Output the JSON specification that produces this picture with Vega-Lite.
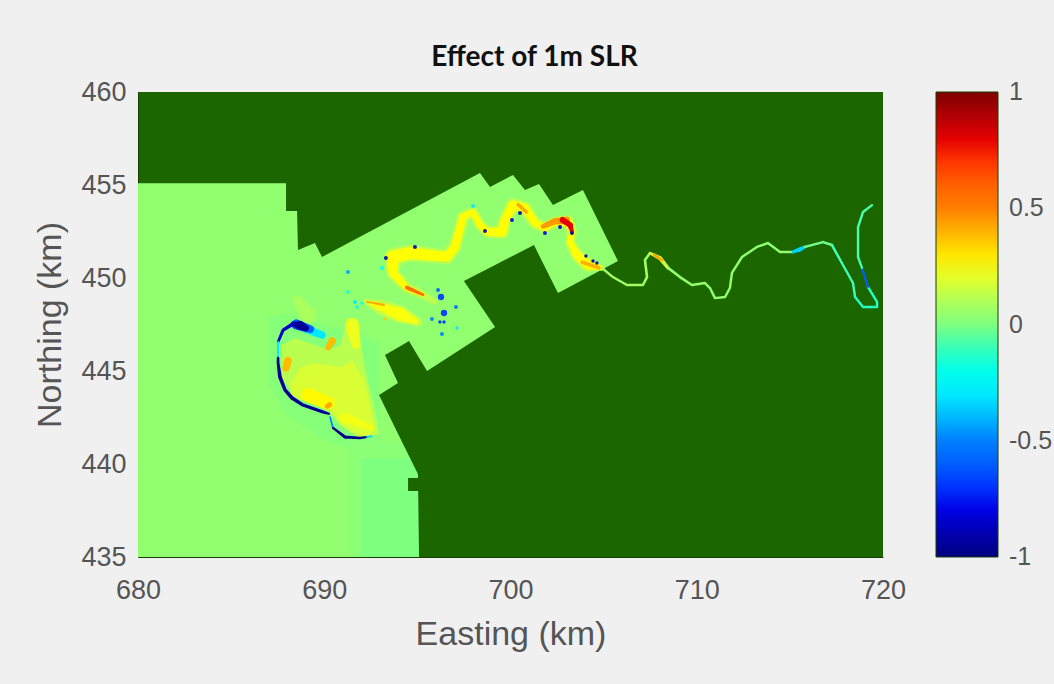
{"$schema":"https://vega.github.io/schema/vega-lite/v6.json","width":745,"height":465,"autosize":"none","padding":{"left":138,"top":92,"right":171,"bottom":127},"background":"#f0f0f0","view":{"fill":"#1c6600","stroke":null},
"title":{"text":"Effect of 1m SLR","font":"Lato","fontSize":28,"fontWeight":"bold","color":"#111111","anchor":"middle","dx":24,"offset":6},
"config":{"axis":{"labelFont":"Liberation Sans","titleFont":"Liberation Sans","labelFontSize":27,"titleFontSize":34,"titleFontWeight":"normal","labelColor":"#555555","titleColor":"#555555","grid":false,"ticks":false,"domainColor":"#173f00","labelFlush":false},"legend":{"labelFont":"Liberation Sans"}},
"resolve":{"scale":{"size":"independent"},"legend":{"color":"independent"}},
"datasets":{
"mesh":[
{"id":"m1","x":680,"y":455.1,"y2":435,"v":0.04},{"id":"m1","x":687.95,"y":455.1,"y2":435,"v":0.04},{"id":"m1","x":687.95,"y":453.6,"y2":435,"v":0.04},{"id":"m1","x":688.54,"y":453.6,"y2":435,"v":0.04},{"id":"m1","x":688.59,"y":451.5,"y2":435,"v":0.04},{"id":"m1","x":689.5,"y":451.88,"y2":435,"v":0.04},{"id":"m1","x":689.88,"y":451.13,"y2":435,"v":0.04},{"id":"m1","x":698.36,"y":455.64,"y2":435,"v":0.04},{"id":"m1","x":698.9,"y":454.89,"y2":435,"v":0.04},{"id":"m1","x":700.13,"y":455.54,"y2":435,"v":0.04},{"id":"m1","x":700.78,"y":454.73,"y2":435,"v":0.04},{"id":"m1","x":701.53,"y":455.05,"y2":435,"v":0.04},{"id":"m1","x":702.28,"y":453.92,"y2":435,"v":0.04},{"id":"m1","x":702.55,"y":454.06,"y2":435,"v":0.04},{"id":"m1","x":702.55,"y":454.06,"y2":449.19,"v":0.04},{"id":"m1","x":703.89,"y":454.73,"y2":449.91,"v":0.04},{"id":"m1","x":705.77,"y":450.91,"y2":450.91,"v":0.04},
{"id":"m4","x":687,"y":447.9,"y2":444.3,"v":0.015},{"id":"m4","x":688,"y":448.1,"y2":442.6,"v":0.015},{"id":"m4","x":690,"y":447.5,"y2":441.3,"v":0.015},{"id":"m4","x":692,"y":447,"y2":440.6,"v":0.015},{"id":"m4","x":693,"y":446.5,"y2":441,"v":0.015},
{"id":"m2","x":691.4,"y":441.2,"y2":435,"v":0.025},{"id":"m2","x":695.09,"y":441.2,"y2":435,"v":0.025},
{"id":"m3","x":692.03,"y":440.3,"y2":435,"v":0.0},{"id":"m3","x":695.09,"y":440.3,"y2":435,"v":0.0}
],
"land":[
{"id":"d1","x":692.94,"y":443.71,"y2":443.71},{"id":"d1","x":693.96,"y":444.35,"y2":441.63},
{"id":"d2","x":693.26,"y":445.86,"y2":445.86},{"id":"d2","x":693.96,"y":446.27,"y2":444.35},{"id":"d2","x":693.96,"y":446.27,"y2":441.63},{"id":"d2","x":694.55,"y":446.61,"y2":440.43},{"id":"d2","x":694.87,"y":446.08,"y2":439.78},{"id":"d2","x":695.03,"y":445.81,"y2":439.46},{"id":"d2","x":695.09,"y":445.71,"y2":435},{"id":"d2","x":695.52,"y":445,"y2":435},{"id":"d2","x":699.3,"y":447.44,"y2":435},
{"id":"d3","x":697.5,"y":449.84,"y2":449.84},{"id":"d3","x":699.17,"y":450.7,"y2":447.36},{"id":"d3","x":699.17,"y":450.7,"y2":435},{"id":"d3","x":701.26,"y":451.77,"y2":435},{"id":"d3","x":702.55,"y":449.19,"y2":435},
{"id":"d4","x":694.5,"y":439.25,"y2":438.55},{"id":"d4","x":695.09,"y":439.25,"y2":438.55}
],
"fan":[
{"id":"f1","x":687.73,"y":446.4,"y2":444.62,"v":0.12},{"id":"f1","x":688.43,"y":446.77,"y2":443.66,"v":0.12},{"id":"f1","x":689.5,"y":446.4,"y2":443.17,"v":0.12},{"id":"f1","x":690.31,"y":446.13,"y2":442.8,"v":0.12},{"id":"f1","x":690.85,"y":446.4,"y2":442.1,"v":0.12},{"id":"f1","x":691.27,"y":447.85,"y2":441.83,"v":0.12},{"id":"f1","x":691.81,"y":447.63,"y2":441.45,"v":0.12},{"id":"f1","x":692.19,"y":445.05,"y2":441.45,"v":0.12},{"id":"f1","x":692.72,"y":442.9,"y2":441.56,"v":0.12},{"id":"f1","x":692.94,"y":441.72,"y2":441.61,"v":0.12},
{"id":"f2","x":688.2,"y":444.3,"y2":443.75,"v":0.18},{"id":"f2","x":688.7,"y":445.2,"y2":443.45,"v":0.18},{"id":"f2","x":689.5,"y":445.4,"y2":443.2,"v":0.18},{"id":"f2","x":690.31,"y":445.3,"y2":442.85,"v":0.18},{"id":"f2","x":690.95,"y":445.2,"y2":442.1,"v":0.18},{"id":"f2","x":691.49,"y":445.6,"y2":441.7,"v":0.18},{"id":"f2","x":692.19,"y":444.4,"y2":441.5,"v":0.18},{"id":"f2","x":692.62,"y":442.3,"y2":441.61,"v":0.18}
],
"strands":[
{"s":"a01","i":0,"x":695.95,"y":448.71,"w":0.3,"v":0.12},{"s":"a01","i":1,"x":695.3,"y":449.09,"w":0.45,"v":0.12},{"s":"a01","i":2,"x":694.44,"y":449.46,"w":0.6,"v":0.12},{"s":"a01","i":3,"x":693.69,"y":450.27,"w":0.7,"v":0.12},{"s":"a01","i":4,"x":693.69,"y":451.13,"w":0.95,"v":0.12},{"s":"a01","i":5,"x":694.6,"y":451.34,"w":0.9,"v":0.12},{"s":"a01","i":6,"x":696.59,"y":451.13,"w":0.75,"v":0.12},{"s":"a01","i":7,"x":697.02,"y":451.67,"w":0.7,"v":0.12},{"s":"a01","i":8,"x":697.45,"y":453.28,"w":0.65,"v":0.12},{"s":"a01","i":9,"x":697.99,"y":453.55,"w":0.55,"v":0.12},{"s":"a01","i":10,"x":698.36,"y":452.85,"w":0.6,"v":0.12},{"s":"a01","i":11,"x":698.79,"y":452.47,"w":0.65,"v":0.12},{"s":"a01","i":12,"x":699.54,"y":452.47,"w":0.75,"v":0.12},{"s":"a01","i":13,"x":699.7,"y":453.12,"w":0.7,"v":0.12},{"s":"a01","i":14,"x":700.13,"y":453.92,"w":0.75,"v":0.12},{"s":"a01","i":15,"x":700.78,"y":453.76,"w":0.7,"v":0.12},{"s":"a01","i":16,"x":701.31,"y":452.96,"w":0.65,"v":0.12},{"s":"a01","i":17,"x":701.85,"y":452.69,"w":0.6,"v":0.12},{"s":"a01","i":18,"x":702.39,"y":453.01,"w":0.6,"v":0.12},{"s":"a01","i":19,"x":703.09,"y":453.01,"w":0.7,"v":0.12},{"s":"a01","i":20,"x":703.3,"y":452.47,"w":0.55,"v":0.12},{"s":"a01","i":21,"x":703.19,"y":451.93,"w":0.55,"v":0.12},{"s":"a01","i":22,"x":703.57,"y":451.24,"w":0.7,"v":0.12},{"s":"a01","i":23,"x":704.16,"y":450.7,"w":0.75,"v":0.12},{"s":"a01","i":24,"x":704.91,"y":450.54,"w":0.3,"v":0.12},
{"s":"a02","i":1,"x":695.3,"y":449.09,"w":0.2,"v":0.25},{"s":"a02","i":2,"x":694.44,"y":449.46,"w":0.3,"v":0.25},{"s":"a02","i":3,"x":693.69,"y":450.27,"w":0.45,"v":0.25},{"s":"a02","i":4,"x":693.69,"y":451.13,"w":0.7,"v":0.25},{"s":"a02","i":5,"x":694.6,"y":451.34,"w":0.65,"v":0.25},{"s":"a02","i":6,"x":696.59,"y":451.13,"w":0.5,"v":0.25},{"s":"a02","i":7,"x":697.02,"y":451.67,"w":0.45,"v":0.25},{"s":"a02","i":8,"x":697.45,"y":453.28,"w":0.4,"v":0.25},{"s":"a02","i":9,"x":697.99,"y":453.55,"w":0.3,"v":0.25},{"s":"a02","i":10,"x":698.36,"y":452.85,"w":0.35,"v":0.25},{"s":"a02","i":11,"x":698.79,"y":452.47,"w":0.4,"v":0.25},{"s":"a02","i":12,"x":699.54,"y":452.47,"w":0.5,"v":0.25},{"s":"a02","i":13,"x":699.7,"y":453.12,"w":0.45,"v":0.25},{"s":"a02","i":14,"x":700.13,"y":453.92,"w":0.5,"v":0.25},{"s":"a02","i":15,"x":700.78,"y":453.76,"w":0.45,"v":0.25},{"s":"a02","i":16,"x":701.31,"y":452.96,"w":0.4,"v":0.25},{"s":"a02","i":17,"x":701.85,"y":452.69,"w":0.35,"v":0.25},{"s":"a02","i":18,"x":702.39,"y":453.01,"w":0.35,"v":0.25},{"s":"a02","i":19,"x":703.09,"y":453.01,"w":0.45,"v":0.25},{"s":"a02","i":20,"x":703.3,"y":452.47,"w":0.3,"v":0.25},{"s":"a02","i":21,"x":703.19,"y":451.93,"w":0.3,"v":0.25},{"s":"a02","i":22,"x":703.57,"y":451.24,"w":0.45,"v":0.25},{"s":"a02","i":23,"x":704.16,"y":450.7,"w":0.5,"v":0.25},{"s":"a02","i":24,"x":704.91,"y":450.54,"w":0.2,"v":0.25},
{"s":"a03","i":0,"x":692.19,"y":448.76,"w":0.25,"v":0.13},{"s":"a03","i":1,"x":692.99,"y":448.44,"w":0.8,"v":0.13},{"s":"a03","i":2,"x":694.07,"y":448.06,"w":0.95,"v":0.13},{"s":"a03","i":3,"x":695.03,"y":447.63,"w":0.5,"v":0.13},
{"s":"a04","i":0,"x":692.6,"y":448.6,"w":0.3,"v":0.24},{"s":"a04","i":1,"x":694.07,"y":448.06,"w":0.7,"v":0.24},{"s":"a04","i":2,"x":694.9,"y":447.67,"w":0.3,"v":0.24},
{"s":"a05","i":0,"x":692.3,"y":448.72,"w":0.1,"v":0.42},{"s":"a05","i":1,"x":693.2,"y":448.55,"w":0.12,"v":0.42},
{"s":"a06","i":0,"x":694.44,"y":449.48,"w":0.22,"v":0.55},{"s":"a06","i":1,"x":695.3,"y":449.1,"w":0.16,"v":0.55},
{"s":"a07","i":0,"x":701.75,"y":452.78,"w":0.25,"v":0.45},{"s":"a07","i":1,"x":702.39,"y":453.05,"w":0.35,"v":0.45},{"s":"a07","i":2,"x":703.0,"y":453.1,"w":0.4,"v":0.45},
{"s":"a08","i":0,"x":702.8,"y":453.12,"w":0.32,"v":0.8},{"s":"a08","i":1,"x":703.2,"y":452.85,"w":0.3,"v":0.8},{"s":"a08","i":2,"x":703.3,"y":452.5,"w":0.2,"v":0.8},
{"s":"a09","i":0,"x":700.4,"y":453.95,"w":0.18,"v":0.42},{"s":"a09","i":1,"x":700.85,"y":453.55,"w":0.18,"v":0.42},
{"s":"a10","i":0,"x":703.85,"y":450.85,"w":0.2,"v":0.4},{"s":"a10","i":1,"x":704.75,"y":450.55,"w":0.2,"v":0.4},
{"s":"b01","i":0,"x":688.59,"y":448.82,"w":0.5,"v":0.09},{"s":"b01","i":1,"x":689.13,"y":448.0,"w":0.9,"v":0.09},
{"s":"b02","i":0,"x":691.49,"y":447.47,"w":0.75,"v":0.22},{"s":"b02","i":1,"x":691.7,"y":446.4,"w":0.45,"v":0.22},
{"s":"b03","i":0,"x":689.13,"y":443.71,"w":0.75,"v":0.26},{"s":"b03","i":1,"x":690.2,"y":443.28,"w":0.7,"v":0.26},
{"s":"b04","i":0,"x":691.11,"y":442.47,"w":0.55,"v":0.23},{"s":"b04","i":1,"x":692.56,"y":441.94,"w":0.3,"v":0.23},
{"s":"b05","i":0,"x":690.2,"y":446.25,"w":0.3,"v":0.38},{"s":"b05","i":1,"x":690.42,"y":446.6,"w":0.42,"v":0.38},
{"s":"b06","i":0,"x":687.95,"y":445.15,"w":0.38,"v":0.38},{"s":"b06","i":1,"x":688.05,"y":445.55,"w":0.42,"v":0.38},
{"s":"b07","i":0,"x":690.15,"y":443.1,"w":0.25,"v":0.42},{"s":"b07","i":1,"x":690.3,"y":443.2,"w":0.25,"v":0.42},
{"s":"k01","i":0,"x":688.5,"y":447.5,"w":0.5,"v":-0.3},{"s":"k01","i":1,"x":689.88,"y":446.93,"w":0.4,"v":-0.3},
{"s":"k02","i":0,"x":688.5,"y":447.5,"w":0.55,"v":-0.6},{"s":"k02","i":1,"x":689.25,"y":447.25,"w":0.4,"v":-0.6},
{"s":"k03","i":0,"x":688.32,"y":447.53,"w":0.25,"v":-0.95},{"s":"k03","i":1,"x":688.7,"y":447.45,"w":0.5,"v":-0.95},{"s":"k03","i":2,"x":689.0,"y":447.3,"w":0.35,"v":-0.95},
{"s":"k04","i":0,"x":688.32,"y":447.53,"w":0.2,"v":-0.85},{"s":"k04","i":1,"x":687.79,"y":447.2,"w":0.17,"v":-0.85},{"s":"k04","i":2,"x":687.52,"y":446.56,"w":0.14,"v":-0.85},
{"s":"k05","i":0,"x":687.52,"y":446.56,"w":0.1,"v":-0.3},{"s":"k05","i":1,"x":687.52,"y":445.7,"w":0.1,"v":-0.3},
{"s":"k06","i":0,"x":687.52,"y":445.7,"w":0.14,"v":-0.95},{"s":"k06","i":1,"x":687.52,"y":445.43,"w":0.15,"v":-0.95},{"s":"k06","i":2,"x":687.62,"y":444.68,"w":0.2,"v":-0.95},{"s":"k06","i":3,"x":687.89,"y":443.98,"w":0.18,"v":-0.95},{"s":"k06","i":4,"x":688.27,"y":443.55,"w":0.2,"v":-0.95},{"s":"k06","i":5,"x":688.86,"y":443.17,"w":0.18,"v":-0.95},{"s":"k06","i":6,"x":689.93,"y":442.8,"w":0.17,"v":-0.95},{"s":"k06","i":7,"x":690.25,"y":442.7,"w":0.12,"v":-0.95},
{"s":"k07","i":0,"x":690.31,"y":442.53,"w":0.08,"v":-0.5},{"s":"k07","i":1,"x":690.47,"y":441.94,"w":0.1,"v":-0.5},
{"s":"k08","i":0,"x":690.47,"y":441.94,"w":0.12,"v":-0.97},{"s":"k08","i":1,"x":691.11,"y":441.45,"w":0.17,"v":-0.97},{"s":"k08","i":2,"x":691.92,"y":441.4,"w":0.14,"v":-0.97},{"s":"k08","i":3,"x":692.3,"y":441.45,"w":0.1,"v":-0.97},
{"s":"k09","i":0,"x":692.3,"y":441.45,"w":0.1,"v":-0.35},{"s":"k09","i":1,"x":692.56,"y":441.5,"w":0.08,"v":-0.35},
{"s":"r01","i":0,"x":704.91,"y":450.54,"w":0.13,"v":0.07},{"s":"r01","i":1,"x":705.5,"y":450.05,"w":0.13,"v":0.07},{"s":"r01","i":2,"x":706.25,"y":449.62,"w":0.13,"v":0.07},{"s":"r01","i":3,"x":707.11,"y":449.62,"w":0.13,"v":0.07},{"s":"r01","i":4,"x":707.33,"y":450.05,"w":0.14,"v":0.07},{"s":"r01","i":5,"x":707.22,"y":450.97,"w":0.14,"v":0.07},{"s":"r01","i":6,"x":707.49,"y":451.34,"w":0.13,"v":0.07},
{"s":"r02","i":0,"x":707.49,"y":451.34,"w":0.13,"v":0.16},{"s":"r02","i":1,"x":708.03,"y":451.07,"w":0.22,"v":0.16},{"s":"r02","i":2,"x":708.46,"y":450.54,"w":0.17,"v":0.16},
{"s":"r03","i":0,"x":707.72,"y":451.25,"w":0.16,"v":0.42},{"s":"r03","i":1,"x":708.15,"y":450.95,"w":0.13,"v":0.42},
{"s":"r04","i":0,"x":708.46,"y":450.54,"w":0.15,"v":0.04},{"s":"r04","i":1,"x":709.1,"y":450.05,"w":0.14,"v":0.04},{"s":"r04","i":2,"x":709.74,"y":449.62,"w":0.13,"v":0.04},{"s":"r04","i":3,"x":710.44,"y":449.73,"w":0.13,"v":0.04},{"s":"r04","i":4,"x":710.71,"y":449.46,"w":0.13,"v":0.04},{"s":"r04","i":5,"x":710.98,"y":448.92,"w":0.13,"v":0.04},{"s":"r04","i":6,"x":711.52,"y":448.98,"w":0.13,"v":0.04},{"s":"r04","i":7,"x":711.78,"y":449.46,"w":0.13,"v":0.04},{"s":"r04","i":8,"x":711.89,"y":450.27,"w":0.13,"v":0.04},{"s":"r04","i":9,"x":712.43,"y":451.13,"w":0.13,"v":0.04},{"s":"r04","i":10,"x":713.23,"y":451.67,"w":0.13,"v":0.04},{"s":"r04","i":11,"x":713.82,"y":451.88,"w":0.13,"v":0.04},{"s":"r04","i":12,"x":714.47,"y":451.4,"w":0.13,"v":0.04},{"s":"r04","i":13,"x":715.17,"y":451.4,"w":0.13,"v":0.04},
{"s":"r05","i":0,"x":715.17,"y":451.4,"w":0.16,"v":-0.35},{"s":"r05","i":1,"x":715.5,"y":451.52,"w":0.24,"v":-0.35},{"s":"r05","i":2,"x":715.81,"y":451.67,"w":0.16,"v":-0.35},
{"s":"r06","i":0,"x":715.81,"y":451.67,"w":0.13,"v":-0.02},{"s":"r06","i":1,"x":716.78,"y":451.93,"w":0.13,"v":-0.02},{"s":"r06","i":2,"x":717.26,"y":451.77,"w":0.14,"v":-0.02},
{"s":"r07","i":0,"x":717.26,"y":451.77,"w":0.14,"v":-0.09},{"s":"r07","i":1,"x":717.85,"y":450.7,"w":0.13,"v":-0.09},{"s":"r07","i":2,"x":718.39,"y":449.73,"w":0.13,"v":-0.09},{"s":"r07","i":3,"x":718.5,"y":448.98,"w":0.13,"v":-0.09},
{"s":"r08","i":0,"x":718.5,"y":448.98,"w":0.13,"v":-0.12},{"s":"r08","i":1,"x":718.93,"y":448.44,"w":0.13,"v":-0.12},{"s":"r08","i":2,"x":719.68,"y":448.44,"w":0.13,"v":-0.12},{"s":"r08","i":3,"x":719.68,"y":448.71,"w":0.13,"v":-0.12},{"s":"r08","i":4,"x":719.19,"y":449.52,"w":0.13,"v":-0.12},
{"s":"r09","i":0,"x":719.19,"y":449.52,"w":0.12,"v":-0.6},{"s":"r09","i":1,"x":718.87,"y":450.54,"w":0.12,"v":-0.6},
{"s":"r10","i":0,"x":718.87,"y":450.54,"w":0.12,"v":-0.08},{"s":"r10","i":1,"x":718.66,"y":451.13,"w":0.13,"v":-0.08},{"s":"r10","i":2,"x":718.66,"y":452.74,"w":0.13,"v":-0.08},{"s":"r10","i":3,"x":718.93,"y":453.55,"w":0.13,"v":-0.08},{"s":"r10","i":4,"x":719.41,"y":453.92,"w":0.12,"v":-0.08}
],
"specks":[
{"x":691.27,"y":450.32,"v":-0.45,"r":2},{"x":691.27,"y":449.25,"v":-0.2,"r":1.5},{"x":693.31,"y":451.07,"v":-0.9,"r":2},{"x":694.87,"y":451.67,"v":-0.9,"r":2},{"x":698.63,"y":452.53,"v":-0.9,"r":2},{"x":697.99,"y":453.87,"v":-0.3,"r":2},{"x":696.11,"y":449.35,"v":-0.6,"r":2},{"x":696.27,"y":448.98,"v":-0.7,"r":5},{"x":696.43,"y":448.12,"v":-0.7,"r":5},{"x":697.07,"y":448.44,"v":-0.55,"r":2},{"x":695.78,"y":447.79,"v":-0.5,"r":2},{"x":696.21,"y":447.63,"v":-0.7,"r":1.5},{"x":696.43,"y":447.63,"v":-0.7,"r":1.5},{"x":696.32,"y":446.99,"v":-0.5,"r":2},{"x":693.26,"y":447.79,"v":0.35,"r":1.5},{"x":697.13,"y":447.31,"v":-0.3,"r":1.5},{"x":693.1,"y":450.54,"v":-0.25,"r":2},{"x":691.65,"y":448.71,"v":-0.3,"r":2},{"x":691.76,"y":448.44,"v":-0.25,"r":1.5},{"x":692.03,"y":448.65,"v":-0.25,"r":1.5},{"x":700.08,"y":453.12,"v":-0.8,"r":2},{"x":700.51,"y":453.49,"v":-0.9,"r":2},{"x":701.85,"y":452.42,"v":-0.8,"r":2},{"x":702.66,"y":452.74,"v":-0.85,"r":2},{"x":703.3,"y":452.42,"v":-0.9,"r":2},{"x":704.05,"y":451.18,"v":-0.9,"r":1.5},{"x":704.43,"y":450.91,"v":-0.9,"r":1.5},{"x":704.64,"y":450.81,"v":-0.9,"r":1.5}
]
},
"encoding":{
"x":{"field":"x","type":"quantitative","scale":{"domain":[680,720],"nice":false,"zero":false},"axis":{"values":[680,690,700,710,720],"title":"Easting (km)","labelPadding":20,"titlePadding":14,"domain":true}},
"y":{"field":"y","type":"quantitative","scale":{"domain":[435,460],"nice":false,"zero":false},"axis":{"values":[435,440,445,450,455,460],"title":"Northing (km)","labelPadding":12,"titlePadding":13,"domain":true}}
},
"layer":[
{"data":{"name":"mesh"},"mark":{"type":"area","orient":"vertical"},"encoding":{"y2":{"field":"y2"},"detail":{"field":"id"},
"color":{"field":"v","type":"quantitative","scale":{"domain":[-1,1],"range":["#00007f","#0000ff","#007fff","#00ffff","#7fff7f","#ffff00","#ff7f00","#ff0000","#7f0000"]},
"legend":{"type":"gradient","title":null,"orient":"none","legendX":798,"legendY":0,"direction":"vertical","gradientLength":465,"gradientThickness":62,"values":[-1,-0.5,0,0.5,1],"format":"~g","labelExpr":"replace(datum.label,'−','-')","labelFontSize":25,"labelColor":"#555555","labelOffset":11,"labelBaseline":"middle","labelOverlap":false,"gradientStrokeColor":"#173f00","gradientStrokeWidth":1,"encoding":{"labels":{"baseline":{"value":"middle"}}}}}}},
{"data":{"name":"land"},"mark":{"type":"area","orient":"vertical","color":"#1c6600"},"encoding":{"y2":{"field":"y2"},"detail":{"field":"id"}}},
{"data":{"name":"fan"},"mark":{"type":"area","orient":"vertical"},"encoding":{"y2":{"field":"y2"},"detail":{"field":"id"},"color":{"field":"v","type":"quantitative","legend":null}}},
{"data":{"name":"strands"},"mark":{"type":"trail"},"encoding":{"detail":{"field":"s"},"order":{"field":"i"},"color":{"field":"v","type":"quantitative","legend":null},"size":{"field":"w","type":"quantitative","legend":null,"scale":{"domain":[0,1],"range":[0,18.6]}}}},
{"data":{"name":"specks"},"mark":{"type":"point","filled":true,"opacity":0.9},"encoding":{"color":{"field":"v","type":"quantitative","legend":null},"size":{"field":"r","type":"quantitative","legend":null,"scale":{"domain":[0,5],"range":[0,40]}}}}
]
}
